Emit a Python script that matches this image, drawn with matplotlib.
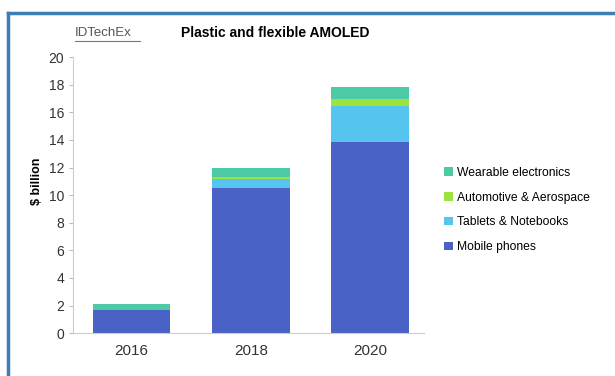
import matplotlib.pyplot as plt
from matplotlib.lines import Line2D

plt.rcParams['font.family'] = ['Liberation Sans', 'DejaVu Sans']

years = ['2016', '2018', '2020']
mobile = [1.65, 10.55, 13.85]
tablets = [0.05, 0.65, 2.6]
automotive = [0.0, 0.15, 0.5]
wearable = [0.4, 0.6, 0.9]

series = [
    ('Mobile phones', mobile, '#4a62c6'),
    ('Tablets & Notebooks', tablets, '#55c4ee'),
    ('Automotive & Aerospace', automotive, '#9ee23e'),
    ('Wearable electronics', wearable, '#4ccaa6'),
]

fig = plt.figure(figsize=(6.15, 3.76), dpi=100)
ax = fig.add_axes([0.119, 0.114, 0.57, 0.734])

x = range(len(years))
bottom = [0.0] * len(years)
for name, vals, col in series:
    ax.bar(x, vals, width=0.65, bottom=bottom, color=col, label=name)
    bottom = [b + v for b, v in zip(bottom, vals)]

ax.set_xlim(-0.49, 2.45)
ax.set_ylim(0, 20)
ax.set_yticks(range(0, 21, 2))
ax.set_xticks(list(x))
ax.set_xticklabels(years, fontsize=11, color='#333333')
ax.tick_params(axis='x', length=0, pad=8)
ax.tick_params(axis='y', length=3, color='#bbbbbb', labelsize=10, labelcolor='#333333', direction='out')
for s in ['top', 'right']:
    ax.spines[s].set_visible(False)
for s in ['left', 'bottom']:
    ax.spines[s].set_color('#cccccc')
ax.set_ylabel('$ billion', fontsize=9, fontweight='bold', labelpad=2)
ax.yaxis.set_label_coords(-0.085, 0.55)

h, l = ax.get_legend_handles_labels()
fig.legend(h[::-1], l[::-1], loc='upper left', bbox_to_anchor=(0.705, 0.585),
           frameon=False, fontsize=8.7, handlelength=0.7, handleheight=0.7,
           handletextpad=0.3, labelspacing=1.05)

fig.text(0.447, 0.912, 'Plastic and flexible AMOLED', fontsize=10, fontweight='bold',
         ha='center', va='center')
fig.text(0.122, 0.912, 'IDTechEx', fontsize=9.5, color='#555555', ha='left', va='center')
fig.add_artist(Line2D([0.122, 0.228], [0.89, 0.89], color='#777777', lw=0.8))

# blue frame (top and left)
fig.add_artist(Line2D([0.013, 1.0], [0.966, 0.966], color='#3b7fb6', lw=2.5))
fig.add_artist(Line2D([0.013, 0.013], [0.0, 0.966], color='#3b7fb6', lw=2.5))

fig.savefig('out.png', dpi=100)
